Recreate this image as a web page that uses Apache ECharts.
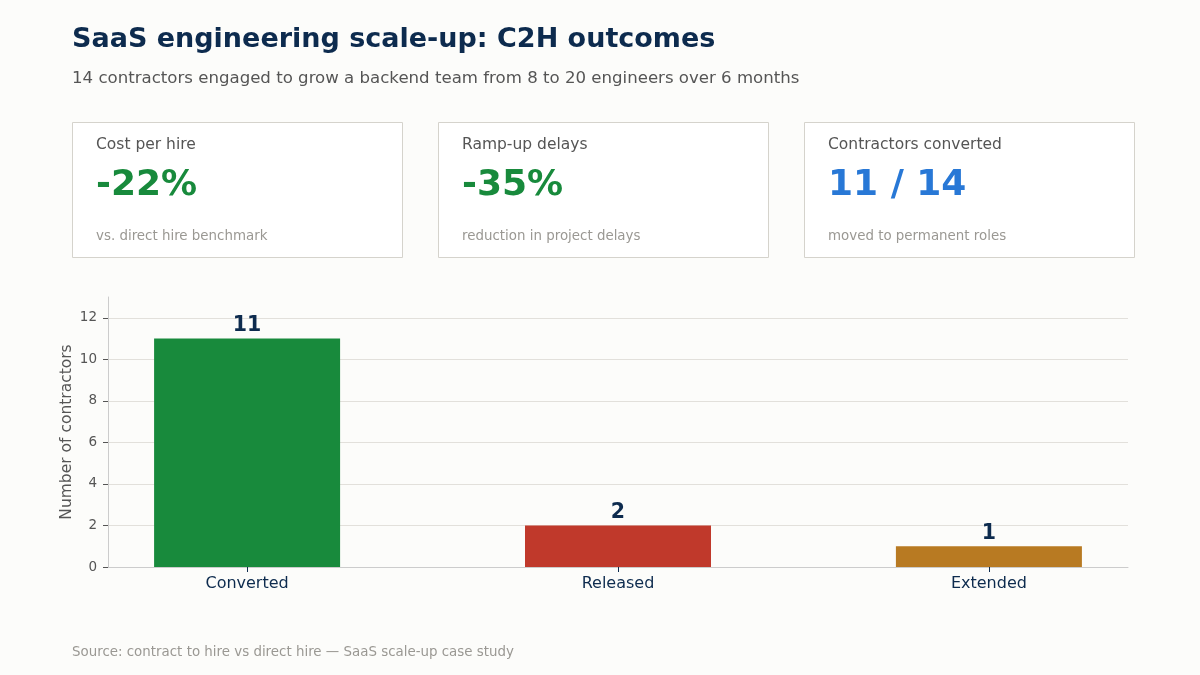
<!DOCTYPE html>
<html>
<head>
<meta charset="utf-8">
<script src="https://cdn.jsdelivr.net/npm/echarts@6/dist/echarts.min.js"></script>
<style>
  html, body { margin: 0; padding: 0; background: #fcfcfa; }
  #chart { width: 1200px; height: 675px; }
</style>
</head>
<body>
<div id="chart"></div>
<script>
const categories = ["Converted", "Released", "Extended"];
const counts = [11, 2, 1];
const barColors = ["#188a3c", "#c0392b", "#b87a22"];

const cardLabels = ["Cost per hire", "Ramp-up delays", "Contractors converted"];
const cardValues = ["-22%", "-35%", "11 / 14"];
const cardNotes = ["vs. direct hire benchmark", "reduction in project delays", "moved to permanent roles"];
const cardColors = ["#188a3c", "#188a3c", "#2878d6"];

const font = "DejaVu Sans";

const cards = [];
cardLabels.forEach((label, i) => {
  const x = 72 + i * 366;
  cards.push(
    {
      type: "rect",
      shape: { x: x + 0.5, y: 122.5, width: 330, height: 135 },
      style: { fill: "#ffffff", stroke: "#d5d3cc", lineWidth: 1 },
    },
    {
      type: "text",
      x: x + 24,
      y: 144.5,
      style: { text: label, fill: "#555555", font: `15.5px '${font}'`, verticalAlign: "middle" },
    },
    {
      type: "text",
      x: x + 24,
      y: 186,
      style: { text: cardValues[i], fill: cardColors[i], font: `bold 36px '${font}'`, verticalAlign: "middle" },
    },
    {
      type: "text",
      x: x + 24,
      y: 236.5,
      style: { text: cardNotes[i], fill: "#9a9893", font: `13.4px '${font}'`, verticalAlign: "middle" },
    }
  );
});

const chart = echarts.init(document.getElementById("chart"));
chart.setOption({
  animation: false,
  backgroundColor: "#fcfcfa",
  textStyle: { fontFamily: font },
  title: [
    {
      text: "SaaS engineering scale-up: C2H outcomes",
      left: 72,
      top: 26,
      padding: 0,
      textStyle: { fontFamily: font, fontSize: 27, fontWeight: "bold", color: "#0d2b4e" },
    },
    {
      text: "14 contractors engaged to grow a backend team from 8 to 20 engineers over 6 months",
      left: 72,
      top: 70,
      padding: 0,
      textStyle: { fontFamily: font, fontSize: 16.6, fontWeight: "normal", color: "#555555" },
    },
    {
      text: "Source: contract to hire vs direct hire \u2014 SaaS scale-up case study",
      left: 72,
      top: 646,
      padding: 0,
      textStyle: { fontFamily: font, fontSize: 13.4, fontWeight: "normal", color: "#9a9893" },
    },
  ],
  graphic: cards,
  grid: { left: 108, right: 72, top: 297, bottom: 108, containLabel: false },
  xAxis: {
    type: "value",
    min: -0.375,
    max: 2.375,
    splitLine: { show: false },
    axisLine: { show: true, onZero: false, lineStyle: { color: "#cccccc" } },
    axisTick: { show: true, customValues: [0, 1, 2], length: 5, lineStyle: { color: "#0d2b4e" } },
    axisLabel: {
      customValues: [0, 1, 2],
      formatter: (v) => categories[Math.round(v)],
      fontSize: 16,
      color: "#0d2b4e",
      margin: 9,
      fontFamily: font,
    },
  },
  yAxis: {
    type: "value",
    min: 0,
    max: 13,
    interval: 2,
    name: "Number of contractors",
    nameLocation: "middle",
    nameGap: 33,
    nameMoveOverlap: false,
    nameTextStyle: { fontSize: 15.5, color: "#555555", fontFamily: font },
    axisLine: { show: true, onZero: false, lineStyle: { color: "#cccccc" } },
    axisTick: { show: true, length: 5, lineStyle: { color: "#555555" } },
    axisLabel: {
      fontSize: 13.5,
      color: "#555555",
      fontFamily: font,
      margin: 11,
      showMaxLabel: false,
    },
    splitLine: { show: true, showMaxLine: false, lineStyle: { color: "#e2e0db" } },
  },
  series: [
    {
      type: "bar",
      barWidth: 186,
      data: counts.map((v, i) => ({ value: [i, v], itemStyle: { color: barColors[i] } })),
      label: {
        show: true,
        position: "top",
        distance: 2,
        fontSize: 20.5,
        fontWeight: "bold",
        color: "#0d2b4e",
        fontFamily: font,
        formatter: (p) => p.value[1],
      },
    },
  ],
});
</script>
</body>
</html>
